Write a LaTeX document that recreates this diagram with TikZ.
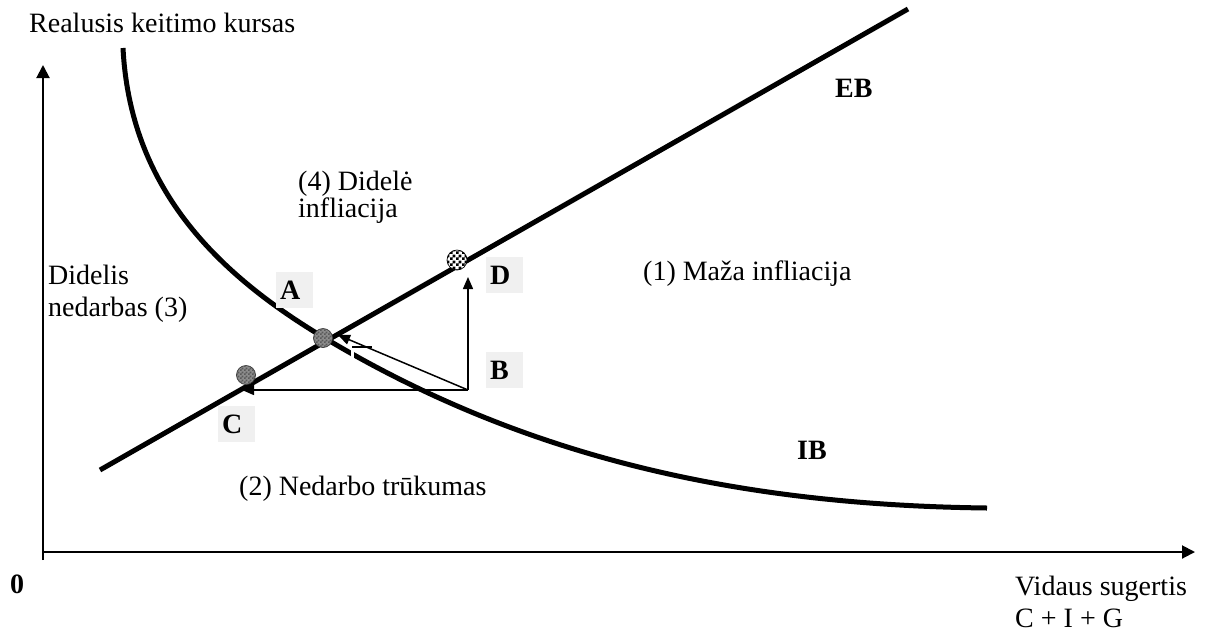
\documentclass[tikz,border=0pt]{standalone}
\usepackage{fontspec}
\setmainfont{Liberation Serif}
\usetikzlibrary{arrows.meta,patterns}
\definecolor{boxgray}{HTML}{F0F0F0}
\pgfdeclarepatternformonly{finecheck}{\pgfpointorigin}{\pgfqpoint{4pt}{4pt}}{\pgfqpoint{4pt}{4pt}}{%
  \pgfpathrectangle{\pgfpointorigin}{\pgfqpoint{2pt}{2pt}}%
  \pgfpathrectangle{\pgfqpoint{2pt}{2pt}}{\pgfqpoint{2pt}{2pt}}%
  \pgfusepath{fill}}
\pgfdeclarepatternformonly{midcheck}{\pgfpointorigin}{\pgfqpoint{6pt}{6pt}}{\pgfqpoint{6pt}{6pt}}{%
  \pgfpathrectangle{\pgfpointorigin}{\pgfqpoint{3pt}{3pt}}%
  \pgfpathrectangle{\pgfqpoint{3pt}{3pt}}{\pgfqpoint{3pt}{3pt}}%
  \pgfusepath{fill}}
\begin{document}
\begin{tikzpicture}[x=1pt,y=-1pt,
  txt/.style={anchor=base west,inner sep=0pt,font=\fontsize{28}{31}\selectfont},
  btxt/.style={txt,font=\fontsize{28}{31}\selectfont\bfseries},
  lbox/.style={fill=boxgray,inner sep=0pt,minimum width=37pt,minimum height=36pt,anchor=north west,
    font=\fontsize{28}{31}\selectfont\bfseries,text width=33pt,align=left,text depth=0pt},
  curve/.style={line width=5pt},
  axis/.style={line width=2pt,-{Triangle[length=13pt,width=13pt]}},
  move/.style={line width=1.5pt,-{Triangle[length=12pt,width=10pt]}},
  dotgray/.style={circle,draw=black!80,line width=0.7pt,minimum size=19pt,inner sep=0pt,fill=gray!90,
    postaction={pattern=finecheck,pattern color=black!65}},
  dotcheck/.style={circle,draw=black,line width=0.7pt,minimum size=20pt,inner sep=0pt,fill=white,
    postaction={pattern=midcheck,pattern color=black}}]
\useasboundingbox (0,0) rectangle (1207,638);

% axes
\coordinate (O) at (43,552);
\coordinate (ybot) at (43,560);
\coordinate (ytop) at (43,65);
\coordinate (xend) at (1195,552);
\draw[axis] (ybot) -- (ytop);
\draw[axis] (O) -- (xend);

% curves
\coordinate (EBs) at (100,470);
\coordinate (EBe) at (908,9);
\draw[curve] (EBs) -- (EBe);
\coordinate (IBs) at (123,48);
\coordinate (IBm) at (323,337);
\coordinate (IBe) at (987,508);
\draw[curve] (IBs) .. controls (130,185) and (213,271) .. (IBm)
  .. controls (523,457) and (737,505) .. (IBe);
% small artefacts near A
\draw[white,line width=3pt] (352,349) -- (352,364);
\draw[line width=1.5pt] (352,347) -- (372,347);

% labels boxes
\node[lbox] (lA) at (276,272) {\hspace*{2pt}A};
\node[lbox] (lD) at (486,257) {\hspace*{2pt}D};
\node[lbox] (lB) at (486,352) {\hspace*{2pt}B};
\node[lbox] (lC) at (218,406) {\hspace*{2pt}C};

% movement arrows
\coordinate (Bc) at (468,390);
\coordinate (Ct) at (242,390);
\coordinate (Dt) at (468,277);
\coordinate (At) at (338,335);
\draw[move] (Bc) -- (Ct);
\draw[move] (Bc) -- (Dt);
\draw[move] (Bc) -- (At);

% points
\node[dotgray] (pA) at (323,338) {};
\node[dotgray] (pC) at (246,375) {};
\node[dotcheck] (pD) at (457,260) {};

% texts
\node[txt] (ylab) at (29,32) {Realusis keitimo kursas};
\node[btxt] (zero) at (10,593) {0};
\node[txt] (xlab1) at (1015,595) {Vidaus sugertis};
\node[txt] (xlab2) at (1015,627) {C + I + G};
\node[btxt] (EB) at (835,97) {EB};
\node[btxt] (IB) at (797,459) {IB};
\node[txt] (t4a) at (298,190) {(4) Didelė};
\node[txt] (t4b) at (298,217) {infliacija};
\node[txt] (t1) at (643,280) {(1) Maža infliacija};
\node[txt] (t3a) at (48,284) {Didelis};
\node[txt] (t3b) at (48,316) {nedarbas (3)};
\node[txt] (t2) at (239,495) {(2) Nedarbo trūkumas};
\end{tikzpicture}
\end{document}
